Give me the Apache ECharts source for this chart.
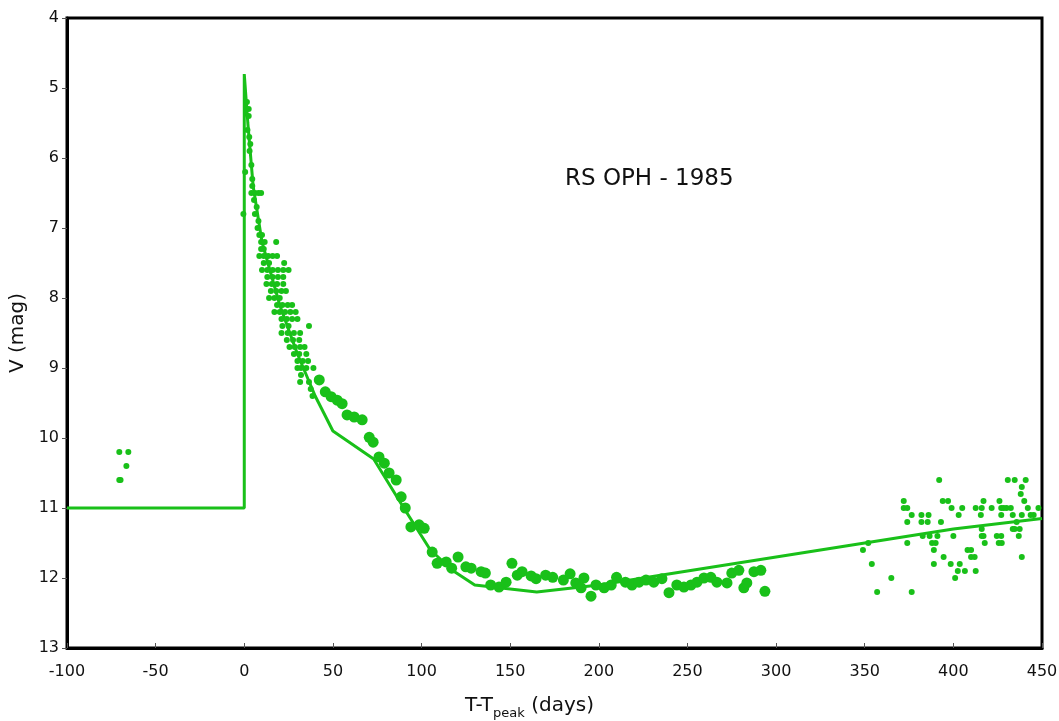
<!DOCTYPE html>
<html>
<head>
<meta charset="utf-8">
<script src="https://cdn.jsdelivr.net/npm/echarts@6/dist/echarts.min.js"></script>
<style>html,body{margin:0;padding:0;background:#fff}#c{width:1059px;height:721px}</style>
</head>
<body>
<div id="c"></div>
<script>
var xTicks = [-100, -50, 0, 50, 100, 150, 200, 250, 300, 350, 400, 450];
var yTicks = [4, 5, 6, 7, 8, 9, 10, 11, 12, 13];

// model light curve (day, V mag)
var modelCurve = [[-100,11],[0,11],[0,4.8],[2,5.5],[5,6.4],[10,7.2],[20,8.1],[30,8.8],[40,9.4],[50,9.9],[73,10.3],[90,11.0],[105,11.6],[118,11.9],[130,12.1],[165,12.2],[200,12.1],[250,11.9],[300,11.7],[350,11.5],[400,11.3],[450,11.15]];

// pre-outburst small points
var preDots = [[-70.5,10.2],[-65.4,10.2],[-66.5,10.4],[-70.5,10.6],[-69.8,10.6]];

// early decline small points
var earlyDots = [[-0.5,6.8],[0.5,6.2],[1.5,5.2],[2.5,5.3],[2.5,5.4],[1.8,5.6],[2.8,5.7],[3.4,5.8],[3,5.9],[4,6.1],[4.5,6.3],[4.5,6.4],[4,6.5],[6,6.5],[8,6.5],[9.5,6.5],[5.5,6.6],[7,6.7],[6,6.8],[8,6.9],[7.5,7.0],[8.5,7.1],[10,7.1],[9.5,7.2],[11.5,7.2],[18,7.2],[9.5,7.3],[11,7.3],[8.5,7.4],[11,7.4],[13.5,7.4],[16,7.4],[18.5,7.4],[11,7.5],[14,7.5],[22.5,7.5],[10,7.6],[13,7.6],[16,7.6],[19,7.6],[22,7.6],[25,7.6],[13,7.7],[16,7.7],[19,7.7],[22,7.7],[12.5,7.8],[15.5,7.8],[18.5,7.8],[22,7.8],[15,7.9],[18,7.9],[21,7.9],[23.5,7.9],[14,8.0],[17,8.0],[20,8.0],[18.5,8.1],[21.5,8.1],[24.5,8.1],[27,8.1],[17,8.2],[20,8.2],[23,8.2],[26,8.2],[29,8.2],[21,8.3],[24,8.3],[27,8.3],[30,8.3],[21.5,8.4],[25,8.4],[36.5,8.4],[21,8.5],[24.5,8.5],[28,8.5],[31.5,8.5],[24,8.6],[27.5,8.6],[31,8.6],[25.5,8.7],[28.5,8.7],[31.5,8.7],[34,8.7],[28,8.8],[31,8.8],[35,8.8],[30,8.9],[33,8.9],[36,8.9],[30,9.0],[32,9.0],[35,9.0],[39,9.0],[32,9.1],[31.5,9.2],[36.5,9.2],[37.5,9.3],[38.5,9.4]];

// large points
var bigDots = [[42.3,9.17],[45.7,9.34],[49,9.41],[52.4,9.46],[55.2,9.51],[58,9.67],[62,9.7],[66.5,9.74],[70.5,9.99],[72.7,10.06],[76,10.27],[79,10.36],[81.7,10.5],[85.7,10.6],[88.5,10.84],[90.8,11.0],[94,11.27],[98.6,11.24],[101.5,11.29],[106,11.63],[108.8,11.79],[113.9,11.77],[117,11.86],[120.6,11.7],[125,11.84],[128,11.86],[133.6,11.91],[136,11.93],[139,12.1],[143.7,12.13],[147.7,12.06],[151,11.79],[154,11.96],[156.7,11.91],[161.8,11.97],[164.6,12.01],[170,11.96],[174,11.99],[180,12.03],[183.8,11.94],[187,12.07],[191.6,12.0],[190,12.14],[195.6,12.26],[198.4,12.1],[203,12.14],[207,12.1],[210,11.99],[215,12.06],[218.7,12.1],[222.7,12.06],[226.6,12.03],[231,12.06],[235.6,12.01],[239.6,12.21],[244,12.1],[248,12.13],[252,12.1],[255.4,12.06],[259.3,12.0],[263.2,11.99],[266.6,12.06],[272.3,12.07],[275,11.93],[279,11.89],[281.8,12.14],[283.5,12.07],[287.5,11.91],[291.4,11.89],[293.7,12.19]];

// late small points
var lateDots = [[349,11.6],[352,11.5],[354,11.8],[357,12.2],[365,12.0],[372,10.9],[372,11.0],[374,11.0],[376.5,11.1],[374,11.2],[374,11.5],[376.5,12.2],[382,11.1],[386,11.1],[382,11.2],[385.5,11.2],[382.7,11.4],[386.6,11.4],[392,10.6],[394,10.9],[397,10.9],[393,11.2],[391,11.4],[388,11.5],[390,11.5],[389,11.6],[394.5,11.7],[389,11.8],[399,11.0],[403,11.1],[405,11.0],[400,11.4],[398.5,11.8],[403.6,11.8],[402.5,11.9],[406.5,11.9],[401,12.0],[408,11.6],[410,11.6],[410,11.7],[412,11.7],[412.6,11.9],[412.6,11.0],[416,11.0],[417,10.9],[415.5,11.1],[416,11.3],[416,11.4],[417,11.4],[417.7,11.5],[421.6,11.0],[426,10.9],[427,11.0],[428.4,11.0],[427,11.1],[424.5,11.4],[427,11.4],[425.6,11.5],[427.3,11.5],[430.7,10.6],[434.6,10.6],[440.8,10.6],[438.6,10.7],[438,10.8],[440,10.9],[430,11.0],[432.4,11.0],[442,11.0],[433.5,11.1],[438.6,11.1],[443.6,11.1],[445.3,11.1],[448,11.0],[435.7,11.2],[433.5,11.3],[434.6,11.3],[437.4,11.3],[436.9,11.4],[438.6,11.7]];

var GREEN = '#19c019';
var FONT = 'DejaVu Sans';

var chart = echarts.init(document.getElementById('c'), null, {renderer: 'canvas'});
chart.setOption({
  animation: false,
  backgroundColor: '#fff',
  grid: {left: 67, right: 17, top: 18, bottom: 73, containLabel: false, outerBoundsMode: 'none', show: true, borderColor: '#000', borderWidth: 3, backgroundColor: 'transparent'},
  graphic: [{
    type: 'text', left: 565, top: 168,
    style: {text: 'RS OPH - 1985', font: '23px "DejaVu Sans"', fill: '#111'}
  }],
  xAxis: {
    type: 'value', min: xTicks[0], max: xTicks[xTicks.length - 1], interval: 50,
    name: '{a|T-T}{s|peak}{a| (days)}',
    nameLocation: 'middle', nameGap: 48,
    nameTextStyle: {
      padding: [0, 50, 0, 0],
      rich: {
        a: {fontFamily: FONT, fontSize: 20, color: '#111', verticalAlign: 'top', lineHeight: 22},
        s: {fontFamily: FONT, fontSize: 13, color: '#111', verticalAlign: 'top', lineHeight: 14, padding: [11, 0, 0, 0]}
      }
    },
    axisLine: {show: true, onZero: false, lineStyle: {color: '#000', width: 3}},
    axisTick: {show: true, inside: true, length: 5, lineStyle: {color: '#555', width: 1}},
    axisLabel: {fontFamily: FONT, fontSize: 16, color: '#111', margin: 16},
    splitLine: {show: false}
  },
  yAxis: {
    type: 'value', inverse: true, min: yTicks[0], max: yTicks[yTicks.length - 1], interval: 1,
    name: 'V (mag)', nameLocation: 'middle', nameGap: 37, nameRotate: 90,
    nameTextStyle: {fontFamily: FONT, fontSize: 20, color: '#111'},
    axisLine: {show: true, onZero: false, lineStyle: {color: '#000', width: 3}},
    axisTick: {show: true, inside: false, length: 5, lineStyle: {color: '#555', width: 1}},
    axisLabel: {fontFamily: FONT, fontSize: 16, color: '#111', margin: 8},
    splitLine: {show: false}
  },
  series: [
    {type: 'line', data: modelCurve, showSymbol: false, symbol: 'none', lineStyle: {color: GREEN, width: 3}, z: 3},
    {type: 'scatter', data: preDots, symbolSize: 6, itemStyle: {color: GREEN, opacity: 1}, z: 4},
    {type: 'scatter', data: earlyDots, symbolSize: 6, itemStyle: {color: GREEN, opacity: 1}, z: 4},
    {type: 'scatter', data: lateDots, symbolSize: 6, itemStyle: {color: GREEN, opacity: 1}, z: 4},
    {type: 'scatter', data: bigDots, symbolSize: 11, itemStyle: {color: GREEN, opacity: 1}, z: 4}
  ]
});
</script>
</body>
</html>
